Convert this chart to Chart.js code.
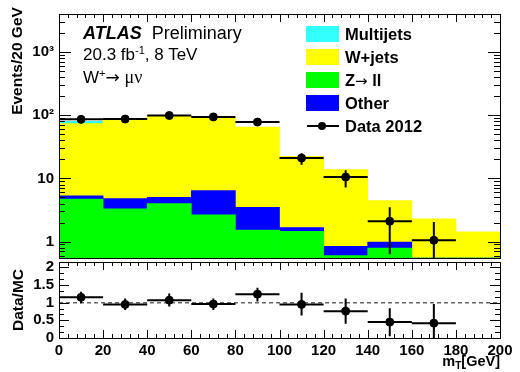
<!DOCTYPE html>
<html><head><meta charset="utf-8">
<script src="https://cdn.jsdelivr.net/npm/chart.js@4.4.1/dist/chart.umd.min.js"></script>
<style>
html,body{margin:0;padding:0;background:#fff;}
#wrap{position:relative;width:520px;height:372px;overflow:hidden;font-family:"Liberation Sans",Arial,sans-serif;color:#000;}
canvas{position:absolute;left:0;}
#cMain{top:0;}
#cRatio{top:250px;}
.t{position:absolute;white-space:nowrap;}
.lg{position:absolute;left:306px;width:33px;height:16px;}
.lt{position:absolute;left:345px;font-weight:bold;font-size:16.5px;line-height:18px;white-space:nowrap;}
.rot{position:absolute;width:160px;height:20px;line-height:20px;text-align:center;font-weight:bold;font-size:15.5px;transform:rotate(-90deg);white-space:nowrap;}
.ar{font-family:'DejaVu Sans',sans-serif;font-weight:normal;}
sup{font-size:65%;vertical-align:0.5em;line-height:0;}
sub{font-size:70%;vertical-align:-0.25em;line-height:0;}
</style></head>
<body><div id="wrap">
<canvas id="cMain" width="520" height="263"></canvas>
<canvas id="cRatio" width="520" height="122"></canvas>

<div class="t" style="left:83px;top:24px;font-size:18px;line-height:18px;"><b><i>ATLAS</i></b>&nbsp; Preliminary</div>
<div class="t" style="left:83px;top:46px;font-size:17px;line-height:18px;">20.3 fb<sup>-1</sup>, 8 TeV</div>
<div class="t" style="left:83px;top:68px;font-size:17px;line-height:18px;">W<sup>+</sup><span class="ar">&rarr;</span> <span style="font-family:'Liberation Serif','DejaVu Serif',serif;font-size:18px;">&mu;&nu;</span></div>

<div class="lg" style="top:26px;background:#33ffff;"></div><div class="lt" style="top:25px;">Multijets</div>
<div class="lg" style="top:49px;background:#ffff00;"></div><div class="lt" style="top:48px;">W+jets</div>
<div class="lg" style="top:72px;background:#00ff00;"></div><div class="lt" style="top:71px;">Z<span class="ar" style="font-size:15px;">&rarr;</span> ll</div>
<div class="lg" style="top:95px;background:#0000ff;"></div><div class="lt" style="top:94px;">Other</div>
<div style="position:absolute;left:307px;top:125px;width:32px;height:2px;background:#000;"></div>
<div style="position:absolute;left:318px;top:122px;width:8px;height:8px;border-radius:50%;background:#000;"></div>
<div class="lt" style="top:117px;">Data 2012</div>

<div class="rot" style="left:-63px;top:51px;">Events/20 GeV</div>
<div class="rot" style="left:-62px;top:290px;">Data/MC</div>
<div class="t" style="right:20px;top:354px;font-size:14.5px;line-height:15px;font-weight:bold;">m<sub>T</sub>[GeV]</div>
</div>
<script>
// ---- data ----
const binEdges   = [0, 20, 40, 60, 80, 100, 120, 140, 160, 180, 200];
const binCenters = [10, 30, 50, 70, 90, 110, 130, 150, 170, 190];
const zll        = [4.7, 3.3, 4.0, 2.66, 1.52, 1.45, 0.6, 0.79, 0, 0];
const other      = [0.6, 1.5, 1.0, 3.74, 1.98, 0.22, 0.24, 0.19, 0, 0];
const wjets      = [68.2, 78.2, 92, 86.6, 61.5, 20.6, 13.0, 3.47, 2.3, 1.43];
const multijets  = [6.5, 0.8, 0, 0, 0, 0, 0, 0, 0, 0];
const dataX      = [10, 30, 50, 70, 90, 110, 130, 150, 170];
const dataY      = [86, 87, 99, 94, 78, 21, 10.5, 2.1, 1.05];
const dataLo     = [77, 78, 89, 85, 69.5, 16.5, 7.2, 0.63, 0.2];
const dataHi     = [95, 96, 109, 104, 87, 25.1, 13.5, 3.5, 2.05];
const ratioY     = [1.15, 0.95, 1.07, 0.96, 1.24, 0.95, 0.76, 0.45, 0.42];
const ratioLo    = [0.98, 0.79, 0.89, 0.79, 1.03, 0.64, 0.40, 0.05, 0];
const ratioHi    = [1.31, 1.12, 1.26, 1.12, 1.42, 1.28, 1.12, 0.84, 0.96];
const ratioRef   = 1;
// ---- ticks ----
const xTickValues      = [0, 20, 40, 60, 80, 100, 120, 140, 160, 180, 200];
const xTickLabels      = ['0','20','40','60','80','100','120','140','160','180','200'];
const yMainTickValues  = [1, 10, 100, 1000];
const yMainTickLabels  = ['1', '10', '10\u00B2', '10\u00B3'];
const yRatioTickValues = [0, 0.5, 1, 1.5, 2];
const yRatioTickLabels = ['0', '0.5', '1', '1.5', '2'];

const FONT = {family: "'Liberation Sans', Arial, sans-serif", size: 15, weight: 'bold'};

function pts(xs, ys){ return xs.map((x,i)=>({x:x, y:ys[i]})); }

// minor tick positions for the frame (decoration only)
const mainYTicks = [];
for (let e=-1; e<=3; e++) for (let k=1; k<=9; k++) { const v = k*Math.pow(10,e); mainYTicks.push([v, k===1?12:6]); }
const xFrameTicks = [];
for (let v=0; v<=200; v+=4) xFrameTicks.push([v, v%20===0?8:4]);
const ratioYTicks = [];
for (let i=0; i<=12; i++) { const v=i/6; ratioYTicks.push([v, (i%3===0)?10:5]); }

const frameTicks = {
  id: 'frameTicks',
  afterDraw(chart, args, o) {
    const {ctx, chartArea:a} = chart; const xs=chart.scales.x, ys=chart.scales.y;
    ctx.save(); ctx.strokeStyle='#000'; ctx.lineWidth=1; ctx.beginPath();
    (o.yTicks||[]).forEach(([v,len])=>{
      const y = Math.round(ys.getPixelForValue(v))+0.5;
      if (y < a.top-0.1 || y > a.bottom+0.6) return;
      ctx.moveTo(a.left,y); ctx.lineTo(a.left+len,y);
      ctx.moveTo(a.right,y); ctx.lineTo(a.right-len,y);
    });
    (o.xTicks||[]).forEach(([v,len])=>{
      const x = Math.round(xs.getPixelForValue(v))+0.5;
      if (o.top){ ctx.moveTo(x,a.top); ctx.lineTo(x,a.top+len); }
      if (o.bottom){ ctx.moveTo(x,a.bottom); ctx.lineTo(x,a.bottom-len); }
    });
    ctx.stroke();
    ctx.strokeRect(Math.round(a.left)+0.5, Math.round(a.top)+0.5, Math.round(a.right-a.left), Math.round(a.bottom-a.top));
    ctx.restore();
  }
};

const errorBars = {
  id: 'errorBars',
  afterDatasetsDraw(chart, args, o) {
    if (!o.y) return;
    const {ctx, chartArea:a} = chart; const xs=chart.scales.x, ys=chart.scales.y;
    ctx.save(); ctx.beginPath(); ctx.rect(a.left,a.top,a.right-a.left,a.bottom-a.top); ctx.clip();
    ctx.strokeStyle='#000'; ctx.lineWidth=2; ctx.beginPath();
    o.x.forEach((xc,i)=>{
      const px = xs.getPixelForValue(xc), py = ys.getPixelForValue(o.y[i]);
      ctx.moveTo(xs.getPixelForValue(o.edges[i]), py); ctx.lineTo(xs.getPixelForValue(o.edges[i+1]), py);
      ctx.moveTo(px, ys.getPixelForValue(o.lo[i])); ctx.lineTo(px, ys.getPixelForValue(o.hi[i]));
    });
    ctx.stroke(); ctx.restore();
  }
};

Chart.register(frameTicks, errorBars);

new Chart(document.getElementById('cMain'), {
  type: 'bar',
  data: { datasets: [
    {type:'scatter', label:'Data 2012', data: pts(dataX, dataY), stack:'data', order:0,
     backgroundColor:'#000', borderColor:'#000', pointRadius:4, pointHoverRadius:4},
    {label:'Z\u2192 ll', data: pts(binCenters, zll), stack:'mc', order:1, backgroundColor:'#00ff00', borderWidth:0, barPercentage:1, categoryPercentage:1},
    {label:'Other', data: pts(binCenters, other), stack:'mc', order:1, backgroundColor:'#0000ff', borderWidth:0, barPercentage:1, categoryPercentage:1},
    {label:'W+jets', data: pts(binCenters, wjets), stack:'mc', order:1, backgroundColor:'#ffff00', borderWidth:0, barPercentage:1, categoryPercentage:1},
    {label:'Multijets', data: pts(binCenters, multijets), stack:'mc', order:1, backgroundColor:'#33ffff', borderWidth:0, barPercentage:1, categoryPercentage:1}
  ]},
  options: {
    responsive:false, animation:false, devicePixelRatio:1,
    layout:{padding:{top:14, right:20, bottom:1, left:0}},
    plugins:{ legend:{display:false}, tooltip:{enabled:false},
      frameTicks:{yTicks: mainYTicks, xTicks: xFrameTicks, top:true, bottom:false},
      errorBars:{x:dataX, y:dataY, lo:dataLo, hi:dataHi, edges:binEdges} },
    scales:{
      x:{type:'linear', min:0, max:200, stacked:true, display:false, offset:false},
      y:{type:'logarithmic', min:0.55, max:4000, stacked:true,
         grid:{display:false, drawTicks:false}, border:{display:false},
         afterBuildTicks: s => { s.ticks = yMainTickValues.map(v=>({value:v})); },
         afterFit: s => { s.width = 59; s.paddingTop = 0; s.paddingBottom = 0; },
         ticks:{font:FONT, color:'#000', padding:5, autoSkip:false,
           callback: (v) => { const i = yMainTickValues.indexOf(v); return i>=0 ? yMainTickLabels[i] : ''; }}}
    }
  }
});

new Chart(document.getElementById('cRatio'), {
  type: 'scatter',
  data: { datasets: [
    {type:'scatter', label:'Data/MC', data: pts(dataX, ratioY), order:0,
     backgroundColor:'#000', borderColor:'#000', pointRadius:4, pointHoverRadius:4},
    {type:'line', label:'ref', data:[{x:0,y:ratioRef},{x:200,y:ratioRef}], order:1,
     borderColor:'#666', borderWidth:1.5, borderDash:[4,3], pointRadius:0, fill:false}
  ]},
  options: {
    responsive:false, animation:false, devicePixelRatio:1,
    layout:{padding:{top:12, right:20, bottom:0, left:0}},
    plugins:{ legend:{display:false}, tooltip:{enabled:false},
      frameTicks:{yTicks: ratioYTicks, xTicks: xFrameTicks, top:true, bottom:true},
      errorBars:{x:dataX, y:ratioY, lo:ratioLo, hi:ratioHi, edges:binEdges} },
    scales:{
      x:{type:'linear', min:0, max:200, grid:{display:false, drawTicks:false}, border:{display:false},
         afterBuildTicks: s => { s.ticks = xTickValues.map(v=>({value:v})); },
         afterFit: s => { s.height = 34; },
         ticks:{font:FONT, color:'#000', padding:4, maxRotation:0, autoSkip:false,
           callback: (v) => { const i = xTickValues.indexOf(v); return i>=0 ? xTickLabels[i] : ''; }}},
      y:{type:'linear', min:0, max:2.15, grid:{display:false, drawTicks:false}, border:{display:false},
         afterBuildTicks: s => { s.ticks = yRatioTickValues.map(v=>({value:v})); },
         afterFit: s => { s.width = 59; s.paddingTop = 0; s.paddingBottom = 0; },
         ticks:{font:FONT, color:'#000', padding:5, autoSkip:false,
           callback: (v) => { const i = yRatioTickValues.indexOf(v); return i>=0 ? yRatioTickLabels[i] : ''; }}}
    }
  }
});
</script>
</body></html>
